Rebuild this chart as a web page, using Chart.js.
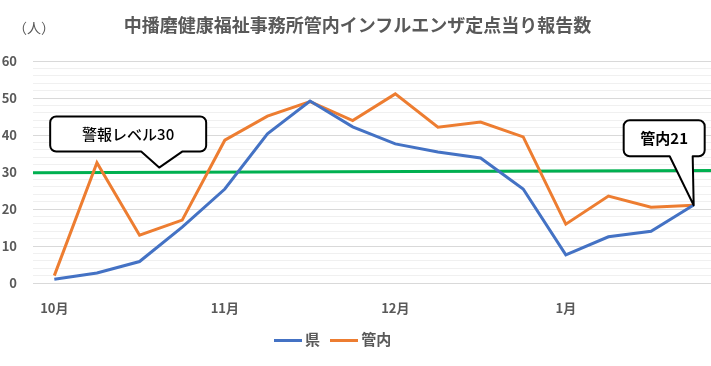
<!DOCTYPE html>
<html>
<head>
<meta charset="utf-8">
<script src="https://cdn.jsdelivr.net/npm/chart.js@4/dist/chart.umd.min.js"></script>
<style>
  html, body { margin:0; padding:0; background:#fff; overflow:hidden; }
  #wrap { position:relative; width:715px; height:366px; }
  .txt { position:absolute; font-family:"Noto Sans CJK JP", sans-serif; color:#595959; white-space:nowrap; }
  #title { left:0; width:715px; top:11px; text-align:center; font-size:18px; font-weight:700; }
  #unit { left:13px; top:17px; font-size:14px; }
  #legend { left:274px; top:328px; font-size:15px; font-weight:700; }
  #legend span.sw { display:inline-block; width:28px; height:3px; vertical-align:middle; margin-right:3px; }
</style>
</head>
<body>
<div id="wrap">
  <canvas id="chart" width="715" height="366"></canvas>
  <div class="txt" id="title">中播磨健康福祉事務所管内インフルエンザ定点当り報告数</div>
  <div class="txt" id="unit">（人）</div>
  <div class="txt" id="legend"><span class="sw" style="background:#4472c4"></span>県&nbsp;&nbsp;&nbsp;<span class="sw" style="background:#ed7d31"></span>管内</div>
</div>
<script>
// データ
const labels = ['10月','','','','11月','','','','12月','','','','1月','','',''];
const ken = [1.0,2.7,5.8,15.1,25.4,40.3,49.2,42.2,37.6,35.4,33.8,25.4,7.6,12.5,14.0,21.1];
const kannai = [2.0,32.5,12.9,17.0,38.6,45.1,49.0,43.9,51.1,42.1,43.5,39.5,15.9,23.5,20.5,21.0];
const alarmX = [-0.5, 15.5];
const alarmY = [29.8, 30.4];

// 吹き出し (先端はデータ座標, 箱は先端からのピクセル差)
const callouts = [
  { text:'警報レベル30', tipX:2.46, tipY:31.2, box:[-109,-51,47,-16], base:[-18,23], bold:false },
  { text:'管内21', tipX:15, tipY:21.0, box:[-70,-85,11,-49], base:[-24,-1], bold:true }
];

const calloutPlugin = {
  id:'callouts',
  afterDatasetsDraw(chart) {
    const c = chart.ctx, xs = chart.scales.x2, ys = chart.scales.y;
    callouts.forEach(o => {
      const tx = xs.getPixelForValue(o.tipX), ty = ys.getPixelForValue(o.tipY);
      const l = tx + o.box[0], t = ty + o.box[1], r = tx + o.box[2], b = ty + o.box[3];
      const rad = 6;
      c.save();
      c.beginPath();
      c.moveTo(l + rad, t);
      c.lineTo(r - rad, t);
      c.arcTo(r, t, r, t + rad, rad);
      c.lineTo(r, b - rad);
      c.arcTo(r, b, r - rad, b, rad);
      c.lineTo(tx + o.base[1], b);
      c.lineTo(tx, ty);
      c.lineTo(tx + o.base[0], b);
      c.lineTo(l + rad, b);
      c.arcTo(l, b, l, b - rad, rad);
      c.lineTo(l, t + rad);
      c.arcTo(l, t, l + rad, t, rad);
      c.closePath();
      c.fillStyle = '#fff';
      c.fill();
      c.lineWidth = 2;
      c.strokeStyle = '#000';
      c.lineJoin = 'round';
      c.stroke();
      c.fillStyle = '#000';
      c.font = (o.bold ? '700 ' : '500 ') + '15px "Noto Sans CJK JP"';
      c.textAlign = 'center';
      c.textBaseline = 'middle';
      c.fillText(o.text, (l + r) / 2, (t + b) / 2);
      c.restore();
    });
  }
};

const ctx = document.getElementById('chart').getContext('2d');
new Chart(ctx, {
  type:'line',
  data:{
    labels:labels,
    datasets:[
      { label:'県', data:ken, borderColor:'#4472c4', backgroundColor:'#4472c4', borderWidth:3, pointRadius:0, tension:0 },
      { label:'管内', data:kannai, borderColor:'#ed7d31', backgroundColor:'#ed7d31', borderWidth:3, pointRadius:0, tension:0 },
      { label:'警報レベル', data:alarmX.map((x, i) => ({ x:x, y:alarmY[i] })), xAxisID:'x2', borderColor:'#00b050', borderWidth:3, pointRadius:0 }
    ]
  },
  options:{
    responsive:false,
    animation:false,
    layout:{ padding:{ top:61, bottom:43, left:0, right:0 } },
    plugins:{ legend:{ display:false }, tooltip:{ enabled:false } },
    scales:{
      x:{
        offset:true,
        grid:{ display:false },
        border:{ display:false },
        ticks:{ autoSkip:false, maxRotation:0, padding:9, color:'#595959', font:{ family:'"Noto Sans CJK JP"', size:13, weight:'bold' } },
        afterFit(s) { s.height = 40; }
      },
      x2:{ type:'linear', display:false, min:-0.5, max:15.5 },
      y:{
        min:0, max:60,
        border:{ display:false },
        grid:{ drawTicks:false, color:c => (c.tick.value % 10 === 0 ? '#d9d9d9' : '#f0f0f0') },
        ticks:{ stepSize:2, autoSkip:false, padding:16, color:'#595959',
          font:{ family:'"Noto Sans CJK JP"', size:13, weight:'bold' },
          callback:v => (v % 10 === 0 ? v : '') },
        afterFit(s) { s.width = 33; }
      }
    }
  },
  plugins:[calloutPlugin]
});
</script>
</body>
</html>
